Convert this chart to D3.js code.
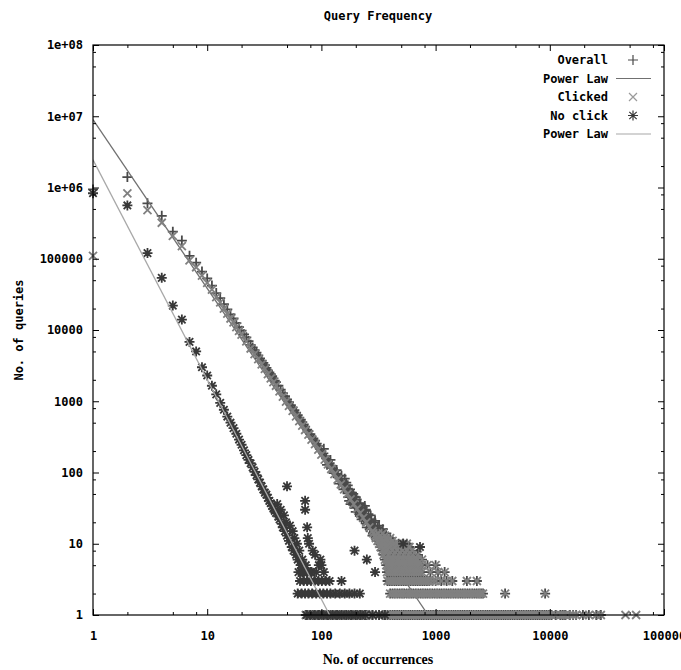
<!DOCTYPE html>
<html>
<head>
<meta charset="utf-8">
<script src="https://cdn.jsdelivr.net/npm/d3@7"></script>
<style>
body { margin: 0; background: #fff; }
text { font-family: "DejaVu Sans Mono", monospace; font-weight: bold; font-size: 12px; fill: #000; }
text.xTitle { font-family: "Liberation Serif", serif; font-size: 14px; }
</style>
</head>
<body>
<div id="chart"></div>
<script>
// ---- data ----
var xMajor = [1, 10, 100, 1000, 10000, 100000];
var xTickLabels = ["1", "10", "100", "1000", "10000", "100000"];
var yMajor = [1, 10, 100, 1000, 10000, 100000, 1e6, 1e7, 1e8];
var yTickLabels = ["1", "10", "100", "1000", "10000", "100000", "1e+06", "1e+07", "1e+08"];
var minorSteps = [2, 5, 8];

var legendLabels = ["Overall", "Power Law", "Clicked", "No click", "Power Law"];

// fitted power laws, end points [occurrences, queries]
var powerLawOverall = [[1, 9.0e6], [860, 1]];
var powerLawNoClick = [[1, 2.45e6], [118, 1]];

var overallHead = [[1,9.4e5],[2,1.4e6],[3,6.0e5],[4,4.0e5],[5,2.4e5],[6,1.8e5],[7,1.1e5],[8,8.8e4],[9,6.6e4],
  [10,5.3e4],[11,4.2e4],[12,3.3e4],[13,2.8e4],[14,2.3e4],[15,1.95e4],[16,1.65e4],[17,1.45e4],[18,1.25e4],
  [19,1.1e4],[20,9.8e3],[21,8.7e3],[22,7.9e3],[23,7.0e3],[24,6.2e3],[25,5.7e3],[26,5.2e3],[27,4.8e3],
  [28,4.4e3],[29,4.0e3],[30,3.7e3],[31,3.45e3],[32,3.2e3],[33,2.95e3],[34,2.7e3],[35,2.55e3],[36,2.4e3],
  [37,2.25e3],[38,2.1e3],[39,1.95e3],[40,1.85e3],[42,1.65e3],[44,1.45e3],[46,1.3e3],[48,1.18e3],[50,1.06e3],
  [52,970],[54,880],[56,820],[58,750],[60,690],[62,640],[64,590],[66,550],[68,510],[70,475],[72,440],
  [75,400],[77,380],[80,345],[82,320],[85,300],[88,280],[91,255],[94,235],[97,215],[100,200],[104,185],
  [107,170],[110,158],[114,145],[118,135],[122,125],[126,115],[130,105],[135,96],[139,88],[144,82],[148,76],
  [153,70],[158,65],[163,60],[169,55],[174,51],[180,47],[186,44],[192,40],[198,37],[205,34],[211,32],
  [218,30],[225,28],[232,26],[240,24],[247,23],[255,21],[263,19],[271,18],[280,16],[289,15],[298,14],
  [307,13],[317,12],[327,11],[337,11],[348,10],[359,9]];

var overallSpread = [[105,215],[112,128],[120,150],[128,98],[136,108],[142,70],[150,90],[156,58],[165,72],
  [172,45],[178,58],[184,38],[190,50],[196,32],[203,42],[209,28],[216,37],[222,24],[230,32],[236,21],
  [244,29],[250,19],[258,26],[265,16],[274,22],[283,14],[292,20],[300,12],[310,17],[320,10],[330,15],
  [340,9],[352,13],[364,8],[376,12],[390,8],[400,10],[410,7],[420,9],[435,7],
  [160,82],[175,40],[195,46],[215,26],[240,34],[262,22],[285,18],[305,15],[330,12],[355,11],
  [170,66],[185,52],[200,45],[220,36],[245,30],[270,25],[295,21],[320,18],[345,16],[370,14],
  [180,36],[200,28],[225,22],[250,17],[280,13]];

var clickedHead = [[1,1.1e5],[2,8.3e5],[3,4.8e5],[4,3.2e5],[5,2.1e5],[6,1.5e5],[7,9.5e4],[8,7.6e4],[9,5.8e4],
  [10,4.6e4],[11,3.7e4],[12,2.9e4],[13,2.45e4],[14,2.0e4],[15,1.7e4],[16,1.45e4],[17,1.28e4],[18,1.1e4],
  [19,9.7e3],[20,8.6e3],[22,6.9e3],[24,5.5e3],[26,4.6e3],[28,3.9e3],[30,3.3e3],[32,2.85e3],[34,2.4e3],
  [36,2.1e3],[38,1.85e3],[40,1.65e3],[43,1.38e3],[46,1.16e3],[49,990],[52,860],[56,730],[60,615],
  [64,525],[68,455],[72,395],[77,340],[82,290],[88,250],[94,210],[100,178],[107,152],[114,130],[122,112],
  [130,95],[139,80],[148,68],[158,58],[169,50],[180,42],[192,36],[205,31],[218,27],[232,23],[247,20],
  [263,17],[280,15],[298,13],[317,11],[337,10],[359,8]];
var clickedFar = [[46000,1],[57000,1]];

// low-count tail: occurrences seen with exactly 1, 2, 3 ... queries
var tailOnes = [73,76,80,84,88,92,96,100,105,110,115,120,126,132,138,144,151,158,165,173,181,189,198,207,
  217,227,238,250,262,280,300,320,345,360,380,400,420,440,460,482,505,528,550,575,600,630,660,690,720,755,
  790,828,865,908,950,995,1040,1090,1140,1195,1250,1310,1370,1435,1500,1570,1640,1720,1800,1885,1970,2065,
  2160,2265,2370,2485,2600,2725,2850,2985,3120,3270,3420,3585,3750,3930,4110,4305,4500,4720,4940,5175,
  5410,5670,5930,6215,6500,6815,7130,7470,7810,8185,8560,8970,9380,9840,10300,11300,12400,13000,13600,
  15000,16000,17000,19500,22000,25500,28000];
var tailTwos = [400,420,440,462,485,508,530,558,585,612,640,672,705,740,775,812,850,892,935,982,1030,1080,
  1130,1185,1240,1300,1360,1430,1500,1575,1650,1730,1810,1900,1990,2090,2190,2295,2400,2500,2600,4060,9100];
var tailThrees = [380,397,415,435,455,477,500,525,550,577,605,635,665,697,730,765,800,840,880,940,1000,
  1120,1250,1400,1880,2300];
var tailUpper = [[375,4],[392,4],[410,4],[430,4],[450,4],[472,4],[495,4],[520,4],[545,4],[572,4],[600,4],
  [630,4],[660,4],[692,4],[725,4],[760,4],[900,4],[1050,4],[1200,4],
  [370,5],[387,5],[405,5],[425,5],[445,5],[467,5],[490,5],[515,5],[540,5],[567,5],[595,5],[625,5],[655,5],
  [687,5],[720,5],[760,5],[850,5],[1000,5],
  [360,6],[377,6],[395,6],[415,6],[435,6],[457,6],[480,6],[505,6],[530,6],[557,6],[585,6],[612,6],[640,6],
  [670,6],[700,6],[760,6],
  [350,7],[385,7],[425,7],[470,7],[520,7],[575,7],[630,7],[700,7],
  [340,8],[375,8],[415,8],[460,8],[510,8],[560,8],[620,8],
  [330,9],[365,9],[400,9],[440,9],[485,9],[535,9],[590,9],
  [320,10],[355,10],[390,10],[430,10],[475,10],[520,10],[560,10],
  [310,11],[345,11],[380,11],[420,11],[300,12],[335,12],[370,12],[400,12],
  [295,13],[325,13],[360,13],[285,14],[315,14],[345,14]];

var noClickHead = [[1,8.3e5],[2,5.6e5],[3,1.2e5],[4,5.4e4],[5,2.2e4],[6,1.4e4],[7,6.8e3],[8,5.0e3],[9,3.0e3],
  [10,2.3e3],[11,1.65e3],[12,1.25e3],[13,950],[14,760],[15,610],[16,500],[17,420],[18,350],[19,290],[20,245],
  [21,205],[22,175],[23,150],[24,135],[25,118],[26,102],[27,92],[28,80],[29,72],[30,64],[31,58],[32,52],
  [33,49],[34,44],[35,40],[36,37],[37,34],[38,31],[39,29],[40,27],[41,36],[42,24],[43,22],[44,30],[45,19],
  [46,17],[47,25],[48,15],[49,20],[50,13],[50,64],[52,11],[53,18],[55,9],[56,15],[57,8],[58,12],[60,7],
  [61,10],[62,6],[64,8],[66,5],[68,6],[70,4],[72,40],[72,30],[73,5],[75,17],[76,12],[78,10],[80,4],[84,8],
  [88,7],[95,5],[98,6],[105,4],[150,3],[195,8],[250,6],[295,4],[520,10],[730,9],
  [63,4],[68,4],[75,4],[82,4],[90,4],[66,5],[100,5]];
var noClickThrees = [65,70,75,81,87,94,101,109,118];
var noClickTwos = [62,67,72,77,83,90,97,104,112,120,132,145,160,176,195,217];
var noClickOnes = [74,80,87,95,104,114,125,137,150,165,182,200,220,242,280,320,360];

// ---- layout ----
var width = 681, height = 670;
var plotLeft = 93, plotRight = 664, plotTop = 45, plotBottom = 615;

var svg = d3.select("#chart")
  .append("svg")
  .attr("width", width)
  .attr("height", height);

var x = d3.scaleLog().domain([1, 1e5]).range([plotLeft, plotRight]);
var y = d3.scaleLog().domain([1, 1e8]).range([plotBottom, plotTop]);

function atLevel(xs, level) {
  return xs.map(function(v) { return [v, level]; });
}

var overallPts = overallHead.concat(overallSpread, tailUpper,
  atLevel(tailThrees, 3), atLevel(tailTwos, 2), atLevel(tailOnes, 1));
var clickedPts = clickedHead.concat(tailUpper,
  atLevel(tailThrees, 3), atLevel(tailTwos, 2), atLevel(tailOnes, 1), clickedFar);
var noClickPts = noClickHead.concat(atLevel(noClickThrees, 3), atLevel(noClickTwos, 2), atLevel(noClickOnes, 1));

var symbolPaths = {
  plus: "M-5,0H5M0,-5V5",
  cross: "M-4,-4L4,4M-4,4L4,-4",
  star: "M-5,0H5M0,-5V5M-3.7,-3.7L3.7,3.7M-3.7,3.7L3.7,-3.7"
};

var colors = { overall: "#4a4a4a", law1: "#707070", clicked: "#808080", noClick: "#383838", law2: "#a8a8a8" };

svg.append("clipPath").attr("id", "plotClip")
  .append("rect")
  .attr("x", plotLeft).attr("y", plotTop)
  .attr("width", plotRight - plotLeft).attr("height", plotBottom - plotTop);

function plotPoints(data, shape, color) {
  svg.append("g")
    .selectAll("path")
    .data(data)
    .join("path")
    .attr("transform", function(d) { return "translate(" + x(d[0]) + "," + y(d[1]) + ")"; })
    .attr("d", symbolPaths[shape])
    .attr("fill", "none")
    .attr("stroke", color)
    .attr("stroke-width", 1.8);
}

var line = d3.line()
  .x(function(d) { return x(d[0]); })
  .y(function(d) { return y(d[1]); });

function plotLine(data, color) {
  svg.append("path")
    .datum(data)
    .attr("clip-path", "url(#plotClip)")
    .attr("d", line)
    .attr("fill", "none")
    .attr("stroke", color)
    .attr("stroke-width", 1.3);
}

// same order as the plot command
plotPoints(overallPts, "plus", colors.overall);
plotLine(powerLawOverall, colors.law1);
plotPoints(clickedPts, "cross", colors.clicked);
plotPoints(noClickPts, "star", colors.noClick);
plotLine(powerLawNoClick, colors.law2);

// ---- axes, ticks mirrored on all sides ----
var xMinor = [], yMinor = [];
xMajor.slice(0, -1).forEach(function(d) { minorSteps.forEach(function(m) { xMinor.push(d * m); }); });
yMajor.slice(0, -1).forEach(function(d) { minorSteps.forEach(function(m) { yMinor.push(d * m); }); });

function addAxis(axis, tx, ty) {
  svg.append("g")
    .attr("transform", "translate(" + tx + "," + ty + ")")
    .call(axis)
    .call(function(g) { g.select(".domain").remove(); });
}

addAxis(d3.axisBottom(x).tickValues(xMajor).tickSize(-6).tickPadding(16)
  .tickFormat(function(d, i) { return xTickLabels[i]; }), 0, plotBottom);
addAxis(d3.axisBottom(x).tickValues(xMinor).tickSize(-3).tickFormat(""), 0, plotBottom);
addAxis(d3.axisTop(x).tickValues(xMajor).tickSize(-6).tickFormat(""), 0, plotTop);
addAxis(d3.axisTop(x).tickValues(xMinor).tickSize(-3).tickFormat(""), 0, plotTop);

addAxis(d3.axisLeft(y).tickValues(yMajor).tickSize(-6).tickPadding(10)
  .tickFormat(function(d, i) { return yTickLabels[i]; }), plotLeft, 0);
addAxis(d3.axisLeft(y).tickValues(yMinor).tickSize(-3).tickFormat(""), plotLeft, 0);
addAxis(d3.axisRight(y).tickValues(yMajor).tickSize(-6).tickFormat(""), plotRight, 0);
addAxis(d3.axisRight(y).tickValues(yMinor).tickSize(-3).tickFormat(""), plotRight, 0);

svg.append("rect")
  .attr("x", plotLeft).attr("y", plotTop)
  .attr("width", plotRight - plotLeft).attr("height", plotBottom - plotTop)
  .attr("fill", "none")
  .attr("stroke", "#000")
  .attr("stroke-width", 1.2);

// ---- titles ----
svg.append("text")
  .attr("x", 378).attr("y", 20)
  .attr("text-anchor", "middle")
  .text("Query Frequency");

svg.append("text")
  .attr("transform", "translate(19," + ((plotTop + plotBottom) / 2) + ")rotate(-90)")
  .attr("text-anchor", "middle")
  .attr("dy", "0.35em")
  .text("No. of queries");

svg.append("text")
  .attr("class", "xTitle")
  .attr("x", 378).attr("y", 664)
  .attr("text-anchor", "middle")
  .text("No. of occurrences");

// ---- legend ----
var legendShapes = ["plus", null, "cross", "star", null];
var legendColors = [colors.overall, colors.law1, "#9a9a9a", colors.noClick, colors.law2];

var legend = svg.append("g").attr("class", "legend");
legendLabels.forEach(function(label, i) {
  var ly = 60 + i * 18.5;
  legend.append("text")
    .attr("x", 608).attr("y", ly)
    .attr("dy", "0.35em")
    .attr("text-anchor", "end")
    .text(label);
  if (legendShapes[i]) {
    legend.append("path")
      .attr("transform", "translate(633," + ly + ")")
      .attr("d", symbolPaths[legendShapes[i]])
      .attr("fill", "none")
      .attr("stroke", legendColors[i])
      .attr("stroke-width", 1.2);
  } else {
    legend.append("line")
      .attr("x1", 616).attr("x2", 651)
      .attr("y1", ly).attr("y2", ly)
      .attr("stroke", legendColors[i])
      .attr("stroke-width", 1.2);
  }
});
</script>
</body>
</html>
